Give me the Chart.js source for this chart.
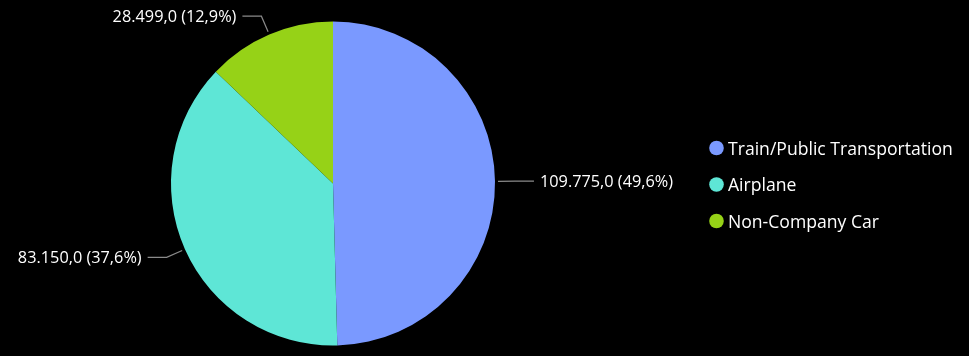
<!DOCTYPE html>
<html>
<head>
<meta charset="utf-8">
<script src="https://cdn.jsdelivr.net/npm/chart.js@4.4.1/dist/chart.umd.min.js"></script>
<style>
html,body{margin:0;padding:0;background:#000;}
#wrap{position:relative;width:969px;height:356px;}
</style>
</head>
<body>
<div id="wrap"><canvas id="c" width="969" height="356"></canvas></div>
<script>
const categories = ["Train/Public Transportation", "Airplane", "Non-Company Car"];
const values = [109775.0, 83150.0, 28499.0];
const colors = ["#7A99FF", "#5EE6D6", "#96D217"];

const FONT = "'Open Sans', 'Noto Sans', sans-serif";

function fmtNum(v) {
  const parts = v.toFixed(1).split(".");
  const int = parts[0].replace(/\B(?=(\d{3})+(?!\d))/g, ".");
  return int + "," + parts[1];
}

const labelPlugin = {
  id: "outLabels",
  afterDatasetsDraw(chart) {
    const ctx = chart.ctx;
    const meta = chart.getDatasetMeta(0);
    const data = chart.data.datasets[0].data;
    const total = data.reduce((a, b) => a + b, 0);
    ctx.save();
    ctx.font = "16.3px " + FONT;
    ctx.textBaseline = "middle";
    meta.data.forEach((arc, i) => {
      const mid = (arc.startAngle + arc.endAngle) / 2;
      const r = arc.outerRadius;
      const cx = arc.x, cy = arc.y;
      const x0 = cx + Math.cos(mid) * (r + 3), y0 = cy + Math.sin(mid) * (r + 3);
      const x1 = cx + Math.cos(mid) * (r + 20), y1 = cy + Math.sin(mid) * (r + 20);
      const right = Math.cos(mid) >= 0;
      const x2 = x1 + (right ? 19 : -19);
      ctx.strokeStyle = "#8a8a8a";
      ctx.lineWidth = 1.2;
      ctx.beginPath();
      ctx.moveTo(x0, y0); ctx.lineTo(x1, y1); ctx.lineTo(x2, y1);
      ctx.stroke();
      const pct = (data[i] / total * 100).toFixed(1).replace(".", ",");
      const txt = fmtNum(data[i]) + " (" + pct + "%)";
      ctx.fillStyle = "#ffffff";
      ctx.textAlign = right ? "left" : "right";
      ctx.fillText(txt, x2 + (right ? 6 : -6), y1 + 1.5);
    });
    // legend
    ctx.font = "17.6px " + FONT;
    ctx.textAlign = "left";
    const ys = [148, 184.5, 221];
    chart.data.labels.forEach((lab, i) => {
      ctx.fillStyle = chart.data.datasets[0].backgroundColor[i];
      ctx.beginPath();
      ctx.arc(716.5, ys[i], 7.3, 0, Math.PI * 2);
      ctx.fill();
      ctx.fillStyle = "#ffffff";
      ctx.fillText(lab, 728, ys[i] + 1.5);
    });
    ctx.restore();
  }
};

new Chart(document.getElementById("c"), {
  type: "pie",
  data: {
    labels: categories,
    datasets: [{
      data: values,
      backgroundColor: colors,
      borderWidth: 0
    }]
  },
  options: {
    responsive: false,
    animation: false,
    layout: { padding: { left: 171, right: 474, top: 21.5, bottom: 10.5 } },
    plugins: { legend: { display: false }, tooltip: { enabled: false } }
  },
  plugins: [labelPlugin]
});
</script>
</body>
</html>
